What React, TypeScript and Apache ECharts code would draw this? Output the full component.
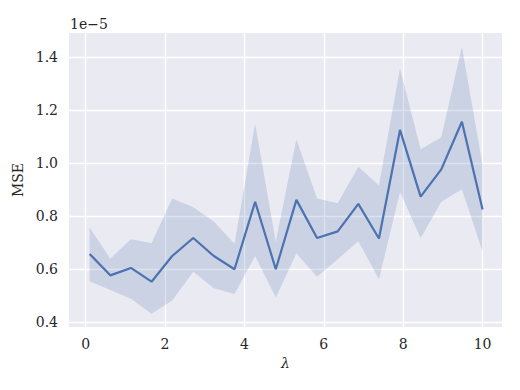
import React, { useEffect, useRef } from "react";
import * as echarts from "echarts";

const lambdas = [0.1, 0.62, 1.14, 1.66, 2.18, 2.71, 3.23, 3.75, 4.27, 4.79, 5.31, 5.83, 6.35, 6.87, 7.39, 7.92, 8.44, 8.96, 9.48, 10.0];
const mseMean = [0.658, 0.577, 0.605, 0.553, 0.65, 0.718, 0.65, 0.6, 0.855, 0.6, 0.862, 0.718, 0.743, 0.847, 0.716, 1.126, 0.874, 0.977, 1.157, 0.826];
const mseUpper = [0.758, 0.64, 0.713, 0.698, 0.867, 0.834, 0.78, 0.696, 1.148, 0.704, 1.09, 0.867, 0.849, 0.987, 0.916, 1.358, 1.053, 1.098, 1.44, 0.994];
const mseLower = [0.555, 0.522, 0.489, 0.432, 0.482, 0.591, 0.528, 0.507, 0.65, 0.493, 0.66, 0.572, 0.638, 0.706, 0.562, 0.893, 0.717, 0.855, 0.902, 0.667];
const xTicks = [0, 2, 4, 6, 8, 10];
const yTicks = [0.4, 0.6, 0.8, 1.0, 1.2, 1.4];

const FONT = "DejaVu Serif";
const TEXT = "#262626";
const LINE = "#4C72B0";

export default function App() {
  const ref = useRef<HTMLDivElement>(null);
  useEffect(() => {
    document.body.style.margin = "0";
    if (!ref.current) return;
    const chart = echarts.init(ref.current, undefined, { renderer: "svg" });
    chart.setOption({
      animation: false,
      backgroundColor: "#ffffff",
      textStyle: { fontFamily: FONT },
      grid: {
        left: 69,
        right: 18,
        top: 33,
        bottom: 63,
        show: true,
        backgroundColor: "#EAEAF2",
        borderWidth: 0,
        containLabel: false,
      },
      xAxis: {
        type: "value",
        min: -0.42,
        max: 10.49,
        name: "λ",
        nameLocation: "middle",
        nameGap: 24,
        nameTextStyle: { fontFamily: FONT, fontSize: 14, color: TEXT, fontStyle: "italic" },
        axisLine: { show: false },
        axisTick: { show: false, customValues: xTicks },
        axisLabel: {
          customValues: xTicks,
          fontFamily: FONT,
          fontSize: 14,
          color: TEXT,
          margin: 10,
          formatter: (v: number) => String(v),
        },
        splitLine: { show: true, lineStyle: { color: "#ffffff", width: 1.4 } },
      },
      yAxis: {
        type: "value",
        min: 0.382,
        max: 1.492,
        name: "MSE",
        nameLocation: "middle",
        nameRotate: 90,
        nameGap: 36,
        nameTextStyle: { fontFamily: FONT, fontSize: 14, color: TEXT },
        axisLine: { show: false },
        axisTick: { show: false, customValues: yTicks },
        axisLabel: {
          customValues: yTicks,
          fontFamily: FONT,
          fontSize: 14,
          color: TEXT,
          margin: 11,
          formatter: (v: number) => v.toFixed(1),
        },
        splitLine: { show: true, lineStyle: { color: "#ffffff", width: 1.4 } },
      },
      graphic: [
        {
          type: "text",
          left: 70,
          top: 17,
          style: { text: "1e\u22125", fontFamily: FONT, fontSize: 14, fill: TEXT },
        },
      ],
      series: [
        {
          type: "custom",
          z: 1,
          silent: true,
          data: [[lambdas[0], mseMean[0]]],
          renderItem: (_params: any, api: any) => {
            const pts: number[][] = [];
            for (let i = 0; i < lambdas.length; i++) pts.push(api.coord([lambdas[i], mseUpper[i]]));
            for (let i = lambdas.length - 1; i >= 0; i--) pts.push(api.coord([lambdas[i], mseLower[i]]));
            return {
              type: "polygon",
              shape: { points: pts },
              style: { fill: "rgba(76,114,176,0.2)", stroke: "none" },
            };
          },
        },
        {
          type: "line",
          z: 2,
          data: lambdas.map((x, i) => [x, mseMean[i]]),
          symbol: "none",
          lineStyle: { color: LINE, width: 2.2 },
        },
      ],
    });
    return () => chart.dispose();
  }, []);
  return <div ref={ref} style={{ width: 520, height: 390 }} />;
}
